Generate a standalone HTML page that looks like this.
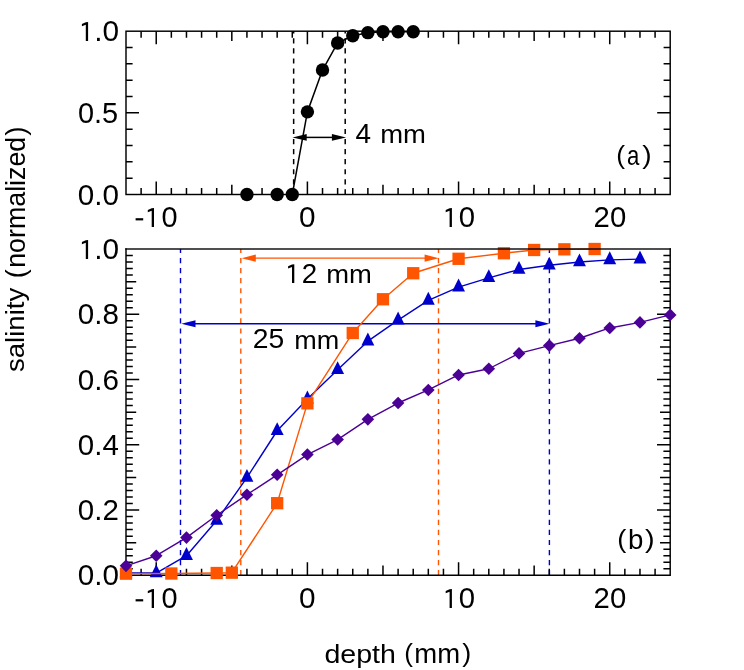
<!DOCTYPE html>
<html><head><meta charset="utf-8"><title>salinity vs depth</title>
<style>html,body{margin:0;padding:0;background:#fff;}svg{display:block;will-change:transform;}text{font-family:"Liberation Sans",sans-serif;font-size:26px;fill:#000;}</style></head><body>
<svg width="744" height="670" viewBox="0 0 744 670">
<rect width="744" height="670" fill="#fff"/>
<path d="M293.65 194.5V31.2" stroke="#000" stroke-width="1.5" stroke-dasharray="5.2 4.87" fill="none"/>
<path d="M345.2 194.5V31.2" stroke="#000" stroke-width="1.5" stroke-dasharray="5.2 4.87" fill="none"/>
<path d="M141.12 31.2v6.5M141.12 194.5v-6.5M156.23 31.2v13M156.23 194.5v-13M171.35 31.2v6.5M171.35 194.5v-6.5M186.47 31.2v6.5M186.47 194.5v-6.5M201.58 31.2v6.5M201.58 194.5v-6.5M216.7 31.2v6.5M216.7 194.5v-6.5M231.82 31.2v9.7M231.82 194.5v-9.7M246.93 31.2v6.5M246.93 194.5v-6.5M262.05 31.2v6.5M262.05 194.5v-6.5M277.17 31.2v6.5M277.17 194.5v-6.5M292.28 31.2v6.5M292.28 194.5v-6.5M307.4 31.2v13M307.4 194.5v-13M322.52 31.2v6.5M322.52 194.5v-6.5M337.63 31.2v6.5M337.63 194.5v-6.5M352.75 31.2v6.5M352.75 194.5v-6.5M367.87 31.2v6.5M367.87 194.5v-6.5M382.98 31.2v9.7M382.98 194.5v-9.7M398.1 31.2v6.5M398.1 194.5v-6.5M413.22 31.2v6.5M413.22 194.5v-6.5M428.33 31.2v6.5M428.33 194.5v-6.5M443.45 31.2v6.5M443.45 194.5v-6.5M458.57 31.2v13M458.57 194.5v-13M473.68 31.2v6.5M473.68 194.5v-6.5M488.8 31.2v6.5M488.8 194.5v-6.5M503.92 31.2v6.5M503.92 194.5v-6.5M519.03 31.2v6.5M519.03 194.5v-6.5M534.15 31.2v9.7M534.15 194.5v-9.7M549.27 31.2v6.5M549.27 194.5v-6.5M564.38 31.2v6.5M564.38 194.5v-6.5M579.5 31.2v6.5M579.5 194.5v-6.5M594.62 31.2v6.5M594.62 194.5v-6.5M609.73 31.2v13M609.73 194.5v-13M624.85 31.2v6.5M624.85 194.5v-6.5M639.97 31.2v6.5M639.97 194.5v-6.5M655.08 31.2v6.5M655.08 194.5v-6.5M126 178.17h6.6M670.2 178.17h-6.6M126 161.84h6.6M670.2 161.84h-6.6M126 145.51h6.6M670.2 145.51h-6.6M126 129.18h6.6M670.2 129.18h-6.6M126 112.85h13M670.2 112.85h-13M126 96.52h6.6M670.2 96.52h-6.6M126 80.19h6.6M670.2 80.19h-6.6M126 63.86h6.6M670.2 63.86h-6.6M126 47.53h6.6M670.2 47.53h-6.6" stroke="#000" stroke-width="1.5" fill="none"/>
<rect x="126" y="31.2" width="544.2" height="163.3" fill="none" stroke="#000" stroke-width="1.45"/>
<path d="M305.7 137.4H332.9" stroke="#000" stroke-width="1.5" fill="none"/>
<path d="M292.5 137.4l14.2 -3.4v6.8z M346.1 137.4l-14.2 -3.4v6.8z" fill="#000"/>
<path d="M292.28 194.5L307.4 111.87L322.52 70.07L337.63 42.96L352.75 35.77L367.87 32.67L382.98 31.69L398.1 31.69L413.22 31.69" stroke="#000" stroke-width="1.5" fill="none" stroke-linejoin="round"/>
<circle cx="246.93" cy="194.5" r="6.7" fill="#000"/>
<circle cx="277.17" cy="194.5" r="6.7" fill="#000"/>
<circle cx="292.28" cy="194.5" r="6.7" fill="#000"/>
<circle cx="307.4" cy="111.87" r="6.7" fill="#000"/>
<circle cx="322.52" cy="70.07" r="6.7" fill="#000"/>
<circle cx="337.63" cy="42.96" r="6.7" fill="#000"/>
<circle cx="352.75" cy="35.77" r="6.7" fill="#000"/>
<circle cx="367.87" cy="32.67" r="6.7" fill="#000"/>
<circle cx="382.98" cy="31.69" r="6.7" fill="#000"/>
<circle cx="398.1" cy="31.69" r="6.7" fill="#000"/>
<circle cx="413.22" cy="31.69" r="6.7" fill="#000"/>
<path d="M180.5 575.3V249" stroke="#0000cc" stroke-width="1.4" stroke-dasharray="5.2 4.87" fill="none"/>
<path d="M549.4 575.3V249" stroke="#0000cc" stroke-width="1.4" stroke-dasharray="5.2 4.87" fill="none"/>
<path d="M240.8 575.3V249" stroke="#ff5500" stroke-width="1.4" stroke-dasharray="5.2 4.87" fill="none"/>
<path d="M438.5 575.3V249" stroke="#ff5500" stroke-width="1.4" stroke-dasharray="5.2 4.87" fill="none"/>
<path d="M141.12 575.3v-6.5M156.23 575.3v-13M171.35 575.3v-6.5M186.47 575.3v-6.5M201.58 575.3v-6.5M216.7 575.3v-6.5M231.82 575.3v-9.7M246.93 575.3v-6.5M262.05 575.3v-6.5M277.17 575.3v-6.5M292.28 575.3v-6.5M307.4 575.3v-13M322.52 575.3v-6.5M337.63 575.3v-6.5M352.75 575.3v-6.5M367.87 575.3v-6.5M382.98 575.3v-9.7M398.1 575.3v-6.5M413.22 575.3v-6.5M428.33 575.3v-6.5M443.45 575.3v-6.5M458.57 575.3v-13M473.68 575.3v-6.5M488.8 575.3v-6.5M503.92 575.3v-6.5M519.03 575.3v-6.5M534.15 575.3v-9.7M549.27 575.3v-6.5M564.38 575.3v-6.5M579.5 575.3v-6.5M594.62 575.3v-6.5M609.73 575.3v-13M624.85 575.3v-6.5M639.97 575.3v-6.5M655.08 575.3v-6.5M126 568.77h6.8M670.2 568.77h-6.8M126 562.25h6.8M670.2 562.25h-6.8M126 555.72h6.8M670.2 555.72h-6.8M126 549.2h6.8M670.2 549.2h-6.8M126 542.67h10.2M670.2 542.67h-10.2M126 536.14h6.8M670.2 536.14h-6.8M126 529.62h6.8M670.2 529.62h-6.8M126 523.09h6.8M670.2 523.09h-6.8M126 516.57h6.8M670.2 516.57h-6.8M126 510.04h13.2M670.2 510.04h-13.2M126 503.51h6.8M670.2 503.51h-6.8M126 496.99h6.8M670.2 496.99h-6.8M126 490.46h6.8M670.2 490.46h-6.8M126 483.94h6.8M670.2 483.94h-6.8M126 477.41h10.2M670.2 477.41h-10.2M126 470.88h6.8M670.2 470.88h-6.8M126 464.36h6.8M670.2 464.36h-6.8M126 457.83h6.8M670.2 457.83h-6.8M126 451.31h6.8M670.2 451.31h-6.8M126 444.78h13.2M670.2 444.78h-13.2M126 438.25h6.8M670.2 438.25h-6.8M126 431.73h6.8M670.2 431.73h-6.8M126 425.2h6.8M670.2 425.2h-6.8M126 418.68h6.8M670.2 418.68h-6.8M126 412.15h10.2M670.2 412.15h-10.2M126 405.62h6.8M670.2 405.62h-6.8M126 399.1h6.8M670.2 399.1h-6.8M126 392.57h6.8M670.2 392.57h-6.8M126 386.05h6.8M670.2 386.05h-6.8M126 379.52h13.2M670.2 379.52h-13.2M126 372.99h6.8M670.2 372.99h-6.8M126 366.47h6.8M670.2 366.47h-6.8M126 359.94h6.8M670.2 359.94h-6.8M126 353.42h6.8M670.2 353.42h-6.8M126 346.89h10.2M670.2 346.89h-10.2M126 340.36h6.8M670.2 340.36h-6.8M126 333.84h6.8M670.2 333.84h-6.8M126 327.31h6.8M670.2 327.31h-6.8M126 320.79h6.8M670.2 320.79h-6.8M126 314.26h13.2M670.2 314.26h-13.2M126 307.73h6.8M670.2 307.73h-6.8M126 301.21h6.8M670.2 301.21h-6.8M126 294.68h6.8M670.2 294.68h-6.8M126 288.16h6.8M670.2 288.16h-6.8M126 281.63h10.2M670.2 281.63h-10.2M126 275.1h6.8M670.2 275.1h-6.8M126 268.58h6.8M670.2 268.58h-6.8M126 262.05h6.8M670.2 262.05h-6.8M126 255.53h6.8M670.2 255.53h-6.8" stroke="#000" stroke-width="1.5" fill="none"/>
<path d="M126 249V575.3H670.2V249" fill="none" stroke="#000" stroke-width="1.45" stroke-linecap="square"/>
<path d="M194.5 323.7H536.4" stroke="#0000cc" stroke-width="1.4" fill="none"/>
<path d="M181.3 323.7l14.2 -3.5v7z M549.6 323.7l-14.2 -3.5v7z" fill="#0000cc"/>
<path d="M254.8 258.15H425.6" stroke="#ff5500" stroke-width="1.4" fill="none"/>
<path d="M241.6 258.15l14.2 -3.6v7.2z M438.8 258.15l-14.2 -3.6v7.2z" fill="#ff5500"/>
<path d="M126 573.02L156.23 573.02L186.47 555.72L216.7 520.48L246.93 477.57L277.17 430.75L307.4 399.1L337.63 369.73L367.87 341.15L398.1 320.13L428.33 300.39L458.57 287.18L488.8 277.81L519.03 269.56L549.27 265.31L579.5 262.05L609.73 259.87L639.97 259.12" stroke="#0000cc" stroke-width="1.4" fill="none" stroke-linejoin="round"/>
<path d="M126 564.42l6.45 12.9h-12.9z" fill="#0000cc"/>
<path d="M156.23 564.42l6.45 12.9h-12.9z" fill="#0000cc"/>
<path d="M186.47 547.12l6.45 12.9h-12.9z" fill="#0000cc"/>
<path d="M216.7 511.88l6.45 12.9h-12.9z" fill="#0000cc"/>
<path d="M246.93 468.97l6.45 12.9h-12.9z" fill="#0000cc"/>
<path d="M277.17 422.15l6.45 12.9h-12.9z" fill="#0000cc"/>
<path d="M307.4 390.5l6.45 12.9h-12.9z" fill="#0000cc"/>
<path d="M337.63 361.13l6.45 12.9h-12.9z" fill="#0000cc"/>
<path d="M367.87 332.55l6.45 12.9h-12.9z" fill="#0000cc"/>
<path d="M398.1 311.53l6.45 12.9h-12.9z" fill="#0000cc"/>
<path d="M428.33 291.79l6.45 12.9h-12.9z" fill="#0000cc"/>
<path d="M458.57 278.58l6.45 12.9h-12.9z" fill="#0000cc"/>
<path d="M488.8 269.21l6.45 12.9h-12.9z" fill="#0000cc"/>
<path d="M519.03 260.96l6.45 12.9h-12.9z" fill="#0000cc"/>
<path d="M549.27 256.71l6.45 12.9h-12.9z" fill="#0000cc"/>
<path d="M579.5 253.45l6.45 12.9h-12.9z" fill="#0000cc"/>
<path d="M609.73 251.27l6.45 12.9h-12.9z" fill="#0000cc"/>
<path d="M639.97 250.52l6.45 12.9h-12.9z" fill="#0000cc"/>
<path d="M126 573.67L171.35 573.51L216.7 573.02L231.82 572.69L277.17 503.19L307.4 403.34L352.75 332.99L382.98 299.25L413.22 273.24L458.57 258.79L503.92 253.24L534.15 249.98L564.38 249.33L594.62 249" stroke="#ff5500" stroke-width="1.4" fill="none" stroke-linejoin="round"/>
<rect x="119.85" y="567.52" width="12.3" height="12.3" fill="#ff5500"/>
<rect x="165.2" y="567.36" width="12.3" height="12.3" fill="#ff5500"/>
<rect x="210.55" y="566.87" width="12.3" height="12.3" fill="#ff5500"/>
<rect x="225.67" y="566.54" width="12.3" height="12.3" fill="#ff5500"/>
<rect x="271.02" y="497.04" width="12.3" height="12.3" fill="#ff5500"/>
<rect x="301.25" y="397.19" width="12.3" height="12.3" fill="#ff5500"/>
<rect x="346.6" y="326.84" width="12.3" height="12.3" fill="#ff5500"/>
<rect x="376.83" y="293.1" width="12.3" height="12.3" fill="#ff5500"/>
<rect x="407.07" y="267.09" width="12.3" height="12.3" fill="#ff5500"/>
<rect x="452.42" y="252.64" width="12.3" height="12.3" fill="#ff5500"/>
<rect x="497.77" y="247.09" width="12.3" height="12.3" fill="#ff5500"/>
<rect x="528" y="243.83" width="12.3" height="12.3" fill="#ff5500"/>
<rect x="558.23" y="243.18" width="12.3" height="12.3" fill="#ff5500"/>
<rect x="588.47" y="242.85" width="12.3" height="12.3" fill="#ff5500"/>
<path d="M126 565.84L156.23 555.72L186.47 537.61L216.7 515.26L246.93 494.7L277.17 474.8L307.4 454.57L337.63 439.56L367.87 419.33L398.1 403.01L428.33 389.96L458.57 374.95L488.8 368.75L519.03 353.42L549.27 345.58L579.5 338.24L609.73 327.96L639.97 322.42L670.2 314.91" stroke="#4b0096" stroke-width="1.4" fill="none" stroke-linejoin="round"/>
<path d="M126 559.54l6.3 6.3l-6.3 6.3l-6.3-6.3z" fill="#4b0096"/>
<path d="M156.23 549.42l6.3 6.3l-6.3 6.3l-6.3-6.3z" fill="#4b0096"/>
<path d="M186.47 531.31l6.3 6.3l-6.3 6.3l-6.3-6.3z" fill="#4b0096"/>
<path d="M216.7 508.96l6.3 6.3l-6.3 6.3l-6.3-6.3z" fill="#4b0096"/>
<path d="M246.93 488.4l6.3 6.3l-6.3 6.3l-6.3-6.3z" fill="#4b0096"/>
<path d="M277.17 468.5l6.3 6.3l-6.3 6.3l-6.3-6.3z" fill="#4b0096"/>
<path d="M307.4 448.27l6.3 6.3l-6.3 6.3l-6.3-6.3z" fill="#4b0096"/>
<path d="M337.63 433.26l6.3 6.3l-6.3 6.3l-6.3-6.3z" fill="#4b0096"/>
<path d="M367.87 413.03l6.3 6.3l-6.3 6.3l-6.3-6.3z" fill="#4b0096"/>
<path d="M398.1 396.71l6.3 6.3l-6.3 6.3l-6.3-6.3z" fill="#4b0096"/>
<path d="M428.33 383.66l6.3 6.3l-6.3 6.3l-6.3-6.3z" fill="#4b0096"/>
<path d="M458.57 368.65l6.3 6.3l-6.3 6.3l-6.3-6.3z" fill="#4b0096"/>
<path d="M488.8 362.45l6.3 6.3l-6.3 6.3l-6.3-6.3z" fill="#4b0096"/>
<path d="M519.03 347.12l6.3 6.3l-6.3 6.3l-6.3-6.3z" fill="#4b0096"/>
<path d="M549.27 339.28l6.3 6.3l-6.3 6.3l-6.3-6.3z" fill="#4b0096"/>
<path d="M579.5 331.94l6.3 6.3l-6.3 6.3l-6.3-6.3z" fill="#4b0096"/>
<path d="M609.73 321.66l6.3 6.3l-6.3 6.3l-6.3-6.3z" fill="#4b0096"/>
<path d="M639.97 316.12l6.3 6.3l-6.3 6.3l-6.3-6.3z" fill="#4b0096"/>
<path d="M670.2 308.61l6.3 6.3l-6.3 6.3l-6.3-6.3z" fill="#4b0096"/>
<path d="M125.28 248.95H670.93" stroke="#000" stroke-opacity="0.92" stroke-width="1.6" fill="none"/>
<path d="M88.1 22.1V40.9H85.8V24.7L81.9 26.3V24L85.8 22.2z" fill="#000"/>
<text transform="matrix(1.1452 0 0 1.1102 94.28 41.32)" fill="#000">.0</text>
<text transform="matrix(1.1118 0 0 1.1102 77.89 122.87)" fill="#000">0.5</text>
<text transform="matrix(1.1399 0 0 1.1102 77.86 204.52)" fill="#000">0.0</text>
<rect x="135.6" y="218.2" width="7.6" height="2.2" fill="#000"/>
<path d="M154 208.1V226.9H151.7V210.7L147.8 212.3V210L151.7 208.2z" fill="#000"/>
<text transform="matrix(1.112 0 0 1.1102 161.59 227.32)" fill="#000">0</text>
<text transform="matrix(1.144 0 0 1.1102 298.96 227.32)" fill="#000">0</text>
<path d="M451.9 208.1V226.9H449.6V210.7L445.7 212.3V210L449.6 208.2z" fill="#000"/>
<text transform="matrix(1.128 0 0 1.1102 458.77 227.32)" fill="#000">0</text>
<text transform="matrix(1.1268 0 0 1.1102 593.59 227.32)" fill="#000">20</text>
<rect x="135.6" y="599.2" width="7.6" height="2.2" fill="#000"/>
<path d="M154 589.1V607.9H151.7V591.7L147.8 593.3V591L151.7 589.2z" fill="#000"/>
<text transform="matrix(1.112 0 0 1.1102 161.59 608.32)" fill="#000">0</text>
<text transform="matrix(1.144 0 0 1.1102 298.96 608.32)" fill="#000">0</text>
<path d="M451.9 589.1V607.9H449.6V591.7L445.7 593.3V591L449.6 589.2z" fill="#000"/>
<text transform="matrix(1.128 0 0 1.1102 458.77 608.32)" fill="#000">0</text>
<text transform="matrix(1.1268 0 0 1.1102 593.59 608.32)" fill="#000">20</text>
<path d="M88.1 240.1V258.9H85.8V242.7L81.9 244.3V242L85.8 240.2z" fill="#000"/>
<text transform="matrix(1.1452 0 0 1.1102 94.28 259.32)" fill="#000">.0</text>
<text transform="matrix(1.1382 0 0 1.1102 77.86 324.28)" fill="#000">0.8</text>
<text transform="matrix(1.1382 0 0 1.1102 77.86 389.54)" fill="#000">0.6</text>
<text transform="matrix(1.1345 0 0 1.1102 77.87 454.8)" fill="#000">0.4</text>
<text transform="matrix(1.1336 0 0 1.1102 77.87 520.06)" fill="#000">0.2</text>
<text transform="matrix(1.1399 0 0 1.1102 77.86 585.32)" fill="#000">0.0</text>
<text transform="matrix(1.0743 0 0 1.0294 355.53 142.8)" fill="#000">4</text>
<text transform="matrix(1.0558 0 0 0.9857 380.15 142.8)" fill="#000">mm</text>
<text transform="matrix(1.0182 0 0 1.0268 616.15 164.08)" fill="#000">(</text>
<text transform="matrix(0.8523 0 0 1.0386 626.94 164.94)" fill="#000">a</text>
<text transform="matrix(1.0815 0 0 1.0268 642.33 164.08)" fill="#000">)</text>
<path d="M294.3 264.3V282.9H292V266.9L288.1 268.5V266.2L292 264.4z" fill="#000"/>
<text transform="matrix(1.0695 0 0 1.0593 301.76 282.9)" fill="#000">2</text>
<text transform="matrix(1.0533 0 0 1.0214 326.16 282.9)" fill="#000">mm</text>
<text transform="matrix(1.0892 0 0 1.0721 252.64 348.48)" fill="#000">25</text>
<text transform="matrix(1.0382 0 0 0.9929 294.18 348.7)" fill="#000">mm</text>
<text transform="matrix(1.0473 0 0 1.0268 617.3 547.88)" fill="#000">(</text>
<text transform="matrix(1.0638 0 0 1.0614 628.07 549.03)" fill="#000">b</text>
<text transform="matrix(1.1111 0 0 1.0268 644.92 547.88)" fill="#000">)</text>
<text transform="matrix(1.0988 0 0 1.0062 324.46 662.59)" fill="#000">depth</text>
<text transform="matrix(1.0036 0 0 1.0062 404.37 662.29)" fill="#000">(</text>
<text transform="matrix(1.0583 0 0 1.05 414.35 662.8)" fill="#000">mm</text>
<text transform="matrix(1.037 0 0 1.0062 462.14 662.29)" fill="#000">)</text>
<text transform="matrix(0 -1.0327 1.0557 0 24.93 278.18)">(</text>
<text transform="matrix(0 -1.0311 1.0667 0 25.33 267.8)">normalized</text>
<text transform="matrix(0 -1.0815 1.0557 0 24.93 135.67)">)</text>
<text transform="matrix(0 -1.0595 1.0144 0 24.35 371.99)">salinity</text>
</svg></body></html>
